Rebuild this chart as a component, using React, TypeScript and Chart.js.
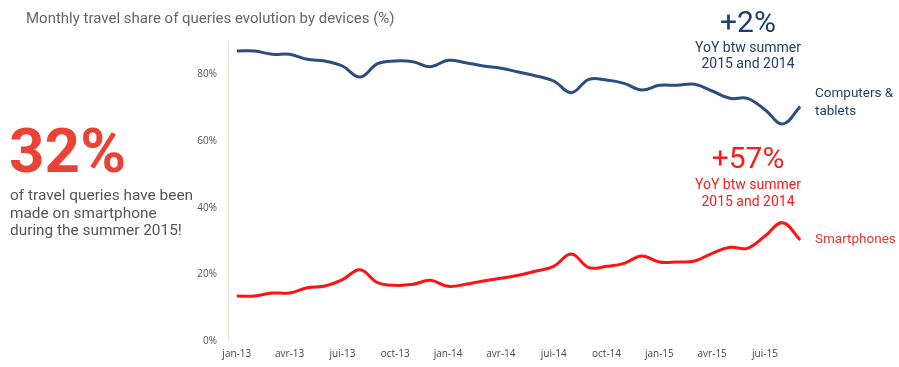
import React, { useEffect, useRef } from "react";
import { Chart, registerables } from "chart.js";

Chart.register(...registerables);

const months = [
  "jan-13", "fév-13", "mar-13", "avr-13", "mai-13", "jui-13", "jul-13", "aoû-13", "sep-13", "oct-13", "nov-13", "déc-13",
  "jan-14", "fév-14", "mar-14", "avr-14", "mai-14", "jui-14", "jul-14", "aoû-14", "sep-14", "oct-14", "nov-14", "déc-14",
  "jan-15", "fév-15", "mar-15", "avr-15", "mai-15", "jui-15", "jul-15", "aoû-15", "sep-15",
];

const tickLabels = ["jan-13", "avr-13", "jui-13", "oct-13", "jan-14", "avr-14", "jui-14", "oct-14", "jan-15", "avr-15", "jui-15"];

const computersTablets = [
  87.0, 87.0, 86.0, 86.0, 84.5, 84.0, 82.5, 79.2, 83.2, 84.0, 83.8, 82.3,
  84.2, 83.5, 82.5, 81.8, 80.7, 79.5, 78.0, 74.5, 78.5, 78.3, 77.3, 75.3,
  76.7, 76.7, 77.0, 75.0, 72.8, 72.8, 69.4, 65.1, 70.3,
];

const smartphones = [
  13.5, 13.5, 14.4, 14.4, 16.0, 16.5, 18.4, 21.4, 17.5, 16.7, 17.0, 18.2,
  16.4, 17.0, 18.0, 18.8, 19.7, 21.0, 22.4, 26.1, 22.0, 22.4, 23.3, 25.5,
  23.7, 23.7, 24.0, 26.3, 28.1, 27.8, 31.5, 35.5, 30.3,
];

const yTicks = [0, 20, 40, 60, 80];

const NAVY = "#1f3f6b";
const BLUE_LINE = "#2c4e7f";
const RED_LINE = "#ff1212";
const RED_TEXT = "#ff1a1a";

export default function App() {
  const canvasRef = useRef<HTMLCanvasElement | null>(null);

  useEffect(() => {
    if (!canvasRef.current) return;
    const chart = new Chart(canvasRef.current, {
      type: "line",
      data: {
        labels: months,
        datasets: [
          {
            label: "Computers & tablets",
            data: computersTablets,
            borderColor: BLUE_LINE,
            borderWidth: 3,
            pointRadius: 0,
            tension: 0.4,
            fill: false,
          },
          {
            label: "Smartphones",
            data: smartphones,
            borderColor: RED_LINE,
            borderWidth: 3,
            pointRadius: 0,
            tension: 0.4,
            fill: false,
          },
        ],
      },
      options: {
        responsive: false,
        animation: false,
        layout: { padding: { left: 188, right: 90, top: 41, bottom: 0 } },
        plugins: { legend: { display: false }, tooltip: { enabled: false } },
        scales: {
          x: {
            type: "category",
            offset: true,
            grid: { display: false, drawTicks: false },
            border: { display: false },
            ticks: {
              autoSkip: false,
              maxRotation: 0,
              minRotation: 0,
              padding: 7,
              color: "#444",
              font: { family: "'Open Sans'", size: 10 },
              callback: (_v: any, i: number) => (i % 3 === 0 ? tickLabels[i / 3] ?? "" : ""),
            },
            afterFit: (s: any) => {
              s.height = 26;
            },
          },
          y: {
            min: 0,
            max: 90,
            grid: { display: false, drawTicks: false },
            border: { display: true, color: "#e6e3d6", width: 1 },
            ticks: {
              padding: 11,
              color: "#555",
              font: { family: "'Open Sans'", size: 10 },
              callback: (v: any) => v + "%",
            },
            afterBuildTicks: (s: any) => {
              s.ticks = yTicks.map((v) => ({ value: v }));
            },
            afterFit: (s: any) => {
              s.width = 40;
            },
          },
        },
      },
    });
    return () => chart.destroy();
  }, []);

  const base: React.CSSProperties = { position: "absolute", fontFamily: "Roboto", whiteSpace: "nowrap" };

  return (
    <div style={{ position: "absolute", left: 0, top: 0, width: 899, height: 367, background: "#fff" }}>
      <canvas ref={canvasRef} width={899} height={367} style={{ position: "absolute", left: 0, top: 0 }} />
      <div style={{ ...base, left: 26, top: 9, fontSize: 15, lineHeight: "18px", color: "#666" }}>
        Monthly travel share of queries evolution by devices (%)
      </div>
      <div style={{ ...base, left: 9, top: 120, fontSize: 62, lineHeight: "62px", fontWeight: 700, color: "#ea4335" }}>
        32%
      </div>
      <div style={{ ...base, left: 10, top: 187, fontSize: 15.4, lineHeight: "17.5px", color: "#555" }}>
        of travel queries have been
        <br />
        made on smartphone
        <br />
        during the summer 2015!
      </div>
      <div style={{ ...base, left: 648, width: 200, textAlign: "center", top: 7, fontSize: 30, lineHeight: "30px", color: NAVY }}>
        +2%
      </div>
      <div style={{ ...base, left: 648, width: 200, textAlign: "center", top: 39, fontSize: 14, lineHeight: "16px", color: NAVY }}>
        YoY btw summer
        <br />
        2015 and 2014
      </div>
      <div style={{ ...base, left: 815, top: 83, fontSize: 13.5, lineHeight: "18px", color: NAVY }}>
        Computers &amp;
        <br />
        tablets
      </div>
      <div style={{ ...base, left: 648, width: 200, textAlign: "center", top: 143, fontSize: 30, lineHeight: "30px", color: RED_TEXT }}>
        +57%
      </div>
      <div style={{ ...base, left: 648, width: 200, textAlign: "center", top: 176, fontSize: 14, lineHeight: "16.5px", color: RED_TEXT }}>
        YoY btw summer
        <br />
        2015 and 2014
      </div>
      <div style={{ ...base, left: 815, top: 229, fontSize: 13.5, lineHeight: "18px", color: "#e8352f" }}>
        Smartphones
      </div>
    </div>
  );
}
